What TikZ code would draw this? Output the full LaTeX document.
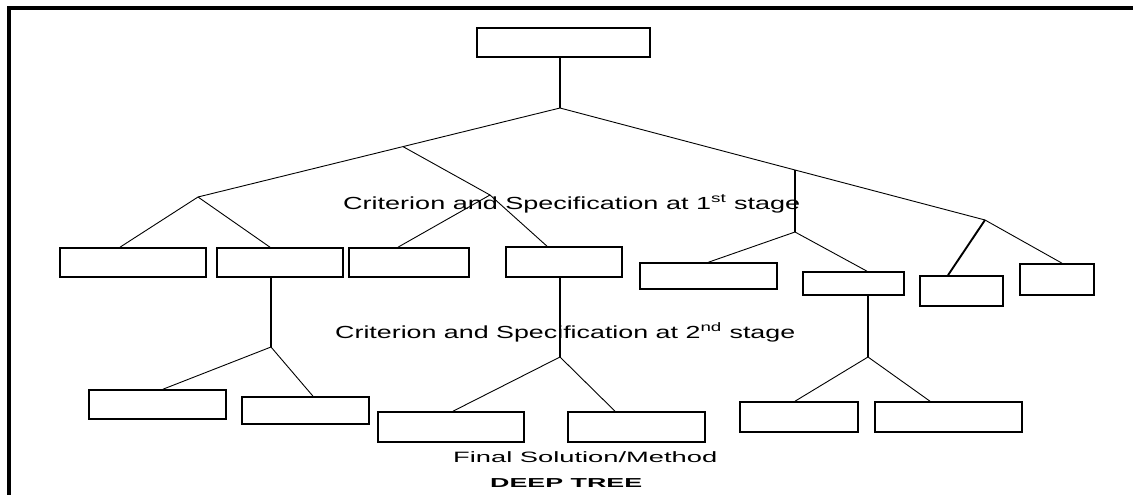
\documentclass[tikz,border=0pt]{standalone}
\usepackage{fontspec}
\setmainfont{Liberation Sans}
\usepackage{graphicx}
\begin{document}
\begin{tikzpicture}[x=1pt,y=-1pt,
  box/.style={draw, line width=1.6pt, fill=white, inner sep=0pt},
  branch/.style={line width=0.9pt},
  stem/.style={line width=1.9pt},
  frameline/.style={line width=3.5pt},
  lbl/.style={inner sep=0pt, anchor=base west}]
\useasboundingbox (0,0) rectangle (1133,495);

% frame
\coordinate (fbl) at (9,495);
\coordinate (ftl) at (9,8);
\coordinate (ftr) at (1133,8);
\draw[frameline] (fbl) -- (ftl) -- (ftr);

% boxes
\node[box, minimum width=173pt, minimum height=29pt] (root) at (563.5,42.5) {};
\node[box, minimum width=146pt, minimum height=29pt] (b1) at (133,262.5) {};
\node[box, minimum width=126pt, minimum height=29pt] (b2) at (280,262.5) {};
\node[box, minimum width=120pt, minimum height=29pt] (b3) at (409,262.5) {};
\node[box, minimum width=116pt, minimum height=30pt] (b4) at (564,262) {};
\node[box, minimum width=137pt, minimum height=26pt] (b5) at (708.5,276) {};
\node[box, minimum width=101pt, minimum height=23pt] (b6) at (853.5,283.5) {};
\node[box, minimum width=83pt,  minimum height=30pt] (b7) at (961.5,291) {};
\node[box, minimum width=74pt,  minimum height=31pt] (b8) at (1057,279.5) {};
\node[box, minimum width=137pt, minimum height=29pt] (b9) at (157.5,404.5) {};
\node[box, minimum width=127pt, minimum height=27pt] (b10) at (305.5,410.5) {};
\node[box, minimum width=146pt, minimum height=30pt] (b11) at (451,427) {};
\node[box, minimum width=137pt, minimum height=30pt] (b12) at (636.5,427) {};
\node[box, minimum width=118pt, minimum height=30pt] (b13) at (799,417) {};
\node[box, minimum width=147pt, minimum height=30pt] (b14) at (948.5,417) {};

% junctions
\coordinate (j0) at (560,108);
\coordinate (jA) at (198,197);
\coordinate (jB) at (403,146.6);
\coordinate (jX) at (490,195);
\coordinate (jC) at (795,170);
\coordinate (jD) at (795,232);
\coordinate (jE) at (985,220);
\coordinate (jF) at (271,347);
\coordinate (jG) at (560,357);
\coordinate (jH) at (868,357);

% level 0
\draw[stem] (j0 |- root.south) -- (j0);
\draw[branch] (j0) -- (jB) -- (jA);
\draw[branch] (j0) -- (jC) -- (jE);
\draw[branch] (jA) -- ([xshift=-13pt]b1.north);
\draw[branch] (jA) -- ([xshift=-10pt]b2.north);
\draw[branch] (jB) -- (jX);
\draw[branch] (jX) -- ([xshift=-11pt]b3.north);
\draw[branch] (jX) -- ([xshift=-17pt]b4.north);
\draw[stem] (jC) -- (jD);
\draw[branch] (jD) -- (b5.north);
\draw[branch] (jD) -- ([xshift=13.5pt]b6.north);
\draw[stem] (jE) -- ([xshift=-13.5pt]b7.north);
\draw[branch] (jE) -- ([xshift=5pt]b8.north);

% level 2
\draw[stem] ([xshift=-9pt]b2.south) -- (jF);
\draw[branch] (jF) -- ([xshift=5.5pt]b9.north);
\draw[branch] (jF) -- ([xshift=7.5pt]b10.north);
\draw[stem] ([xshift=-4pt]b4.south) -- (jG);
\draw[branch] (jG) -- ([xshift=2pt]b11.north);
\draw[branch] (jG) -- ([xshift=-21.5pt]b12.north);
\draw[stem] ([xshift=14.5pt]b6.south) -- (jH);
\draw[branch] (jH) -- ([xshift=-4pt]b13.north);
\draw[branch] (jH) -- ([xshift=-18.5pt]b14.north);

% labels
\node[lbl] (t1) at (343,209) {\resizebox{457pt}{\height}{\fontsize{17.5}{20}\selectfont Criterion and Specification at 1\textsuperscript{st} stage}};
\node[lbl] (t2) at (335,338) {\resizebox{460pt}{\height}{\fontsize{17.5}{20}\selectfont Criterion and Specification at 2\textsuperscript{nd} stage}};
\node[lbl] (t3) at (453,462) {\resizebox{264pt}{\height}{\fontsize{15}{18}\selectfont Final Solution/Method}};
\node[lbl] (t4) at (490,487) {\resizebox{152pt}{\height}{\fontsize{13}{15}\selectfont\bfseries DEEP TREE}};
\end{tikzpicture}
\end{document}
